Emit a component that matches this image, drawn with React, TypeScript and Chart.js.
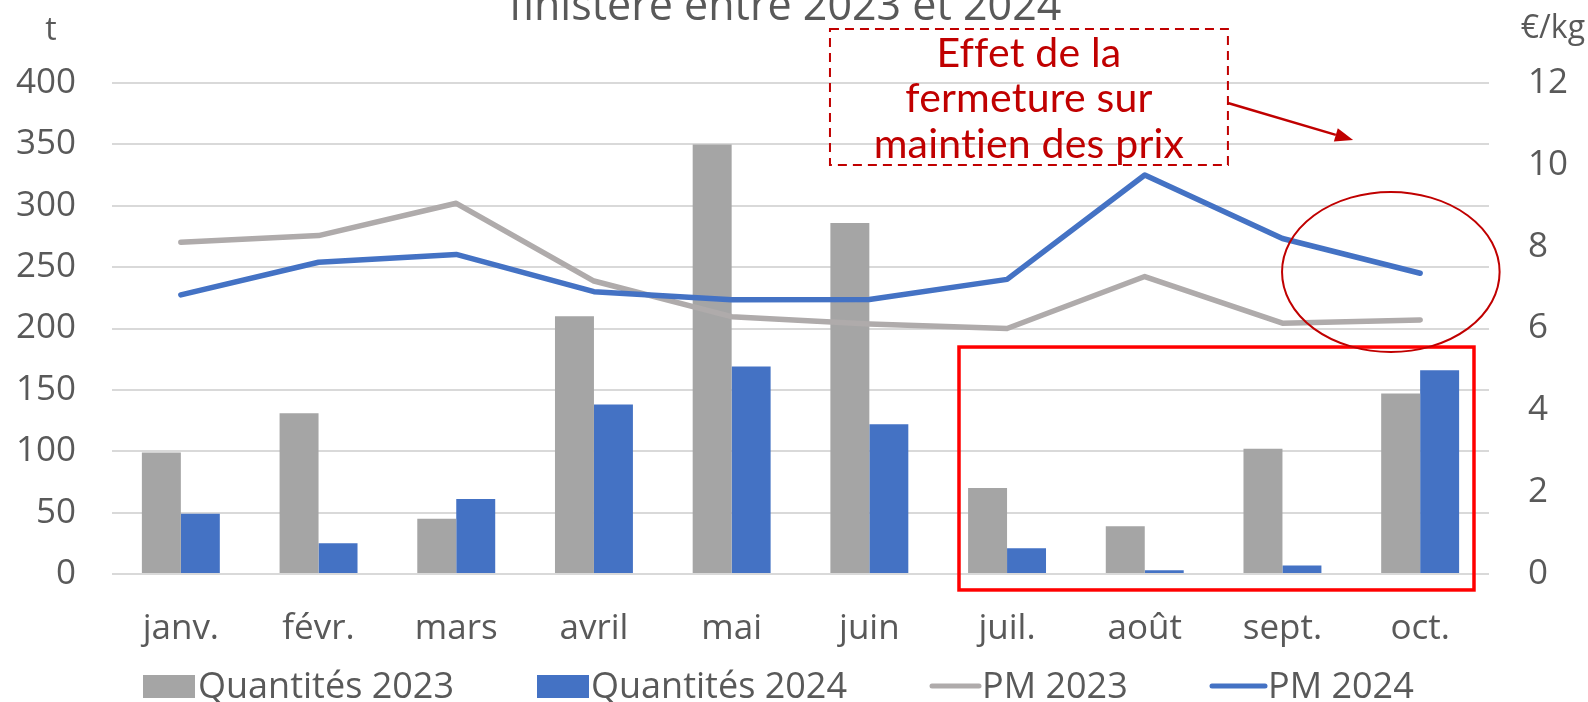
import React, { useEffect, useRef } from 'react';
import { Chart, registerables } from 'chart.js';

Chart.register(...registerables);

// ---- data ----
const categories = ['janv.', 'févr.', 'mars', 'avril', 'mai', 'juin', 'juil.', 'août', 'sept.', 'oct.'];
const quantites2023 = [99, 131, 45, 210, 350, 286, 70, 39, 102, 147];
const quantites2024 = [49, 25, 61, 138, 169, 122, 21, 3, 7, 166];
const prixMoyen2023 = [8.11, 8.27, 9.06, 7.16, 6.29, 6.11, 6.0, 7.27, 6.13, 6.21];
const prixMoyen2024 = [6.82, 7.62, 7.81, 6.9, 6.7, 6.71, 7.2, 9.75, 8.2, 7.35];
const seriesLabels = ['Quantités 2023', 'Quantités 2024', 'PM 2023', 'PM 2024'];
const leftAxisRange = [0, 400, 50];
const rightAxisRange = [0, 12, 2];
const leftAxisTitle = 't';
const rightAxisTitle = '€/kg';
const titleText = 'finistère entre 2023 et 2024';
const annotationLines = ['Effet de la', 'fermeture sur', 'maintien des prix'];

const FONT = "'Open Sans', sans-serif";
const TEXT = '#595959';
const GRAY_BAR = '#A5A5A5';
const BLUE = '#4472C4';
const GRAY_LINE = '#AFABAB';
const DARK_RED = '#C00000';

export default function App() {
  const ref = useRef<HTMLCanvasElement>(null);

  useEffect(() => {
    const canvas = ref.current!;

    const overlay = {
      id: 'overlay',
      afterDraw(chart: any) {
        const ctx = chart.ctx as CanvasRenderingContext2D;
        const xs = chart.scales.x;
        const yl = chart.scales.y;
        const yr = chart.scales.y1;
        const cx = (v: number) => xs.getPixelForValue(v);
        const cw = xs.getPixelForValue(1) - xs.getPixelForValue(0);
        ctx.save();

        // title (partially cut at top)
        ctx.fillStyle = TEXT;
        ctx.font = `43px ${FONT}`;
        ctx.textAlign = 'center';
        ctx.textBaseline = 'alphabetic';
        ctx.fillText(titleText, 785, 20);

        // axis titles
        ctx.font = `32px ${FONT}`;
        ctx.textAlign = 'center';
        ctx.fillText(leftAxisTitle, 51, 40);
        ctx.textAlign = 'right';
        ctx.fillText(rightAxisTitle, 1585, 38);

        // legend
        ctx.font = `36px ${FONT}`;
        ctx.textAlign = 'left';
        const legendY = 698;
        ctx.fillStyle = GRAY_BAR;
        ctx.fillRect(143, 675, 52, 23);
        ctx.fillStyle = TEXT;
        ctx.fillText(seriesLabels[0], 198, legendY);
        ctx.fillStyle = BLUE;
        ctx.fillRect(537, 675, 52, 23);
        ctx.fillStyle = TEXT;
        ctx.fillText(seriesLabels[1], 591, legendY);
        ctx.lineCap = 'round';
        ctx.lineWidth = 5;
        ctx.strokeStyle = GRAY_LINE;
        ctx.beginPath();
        ctx.moveTo(932, 686);
        ctx.lineTo(979, 686);
        ctx.stroke();
        ctx.fillStyle = TEXT;
        ctx.fillText(seriesLabels[2], 982, legendY);
        ctx.strokeStyle = BLUE;
        ctx.beginPath();
        ctx.moveTo(1212, 686);
        ctx.lineTo(1265, 686);
        ctx.stroke();
        ctx.fillText(seriesLabels[3], 1268, legendY);

        // red rectangle around juil.-oct.
        ctx.lineCap = 'butt';
        ctx.strokeStyle = '#FF0000';
        ctx.lineWidth = 3.5;
        const rx0 = cx(5.651), rx1 = cx(9.391);
        const ry0 = yl.getPixelForValue(184.9), ry1 = yl.getPixelForValue(-13);
        ctx.strokeRect(rx0, ry0, rx1 - rx0, ry1 - ry0);

        // ellipse around end of price lines
        ctx.strokeStyle = DARK_RED;
        ctx.lineWidth = 2;
        const ecx = cx(8.787);
        const ecy = yr.getPixelForValue(7.38);
        const erx = 0.79 * cw;
        const ery = Math.abs(yr.getPixelForValue(0) - yr.getPixelForValue(1.955));
        ctx.beginPath();
        ctx.ellipse(ecx, ecy, erx, ery, 0, 0, Math.PI * 2);
        ctx.stroke();

        // dashed annotation box
        const bx0 = cx(4.714), bx1 = cx(7.604);
        const by0 = yl.getPixelForValue(444), by1 = yl.getPixelForValue(333.2);
        ctx.setLineDash([9, 6]);
        ctx.lineWidth = 2;
        ctx.strokeRect(bx0, by0, bx1 - bx0, by1 - by0);
        ctx.setLineDash([]);
        ctx.fillStyle = DARK_RED;
        ctx.font = `41px Lato, ${FONT}`;
        try {
          (ctx as any).letterSpacing = '0.2px';
        } catch (e) {}
        ctx.textAlign = 'center';
        const bcx = (bx0 + bx1) / 2;
        annotationLines.forEach((t, i) => {
          ctx.fillText(t, bcx, by0 + 38 + i * 45.5);
        });
        try {
          (ctx as any).letterSpacing = '0px';
        } catch (e) {}

        // arrow
        const ax0 = cx(7.604), ay0 = yl.getPixelForValue(383.7);
        const ax1 = cx(8.513), ay1 = yl.getPixelForValue(353.6);
        const ang = Math.atan2(ay1 - ay0, ax1 - ax0);
        const headLen = 18, headW = 7;
        ctx.strokeStyle = DARK_RED;
        ctx.lineWidth = 2.5;
        ctx.beginPath();
        ctx.moveTo(ax0, ay0);
        ctx.lineTo(ax1 - headLen * Math.cos(ang), ay1 - headLen * Math.sin(ang));
        ctx.stroke();
        ctx.beginPath();
        ctx.moveTo(ax1, ay1);
        const bxh = ax1 - headLen * Math.cos(ang), byh = ay1 - headLen * Math.sin(ang);
        ctx.lineTo(bxh + headW * Math.sin(ang), byh - headW * Math.cos(ang));
        ctx.lineTo(bxh - headW * Math.sin(ang), byh + headW * Math.cos(ang));
        ctx.closePath();
        ctx.fill();

        ctx.restore();
      },
    };

    const chart = new Chart(canvas, {
      type: 'bar',
      data: {
        labels: categories,
        datasets: [
          {
            type: 'bar',
            label: seriesLabels[0],
            data: quantites2023,
            backgroundColor: GRAY_BAR,
            yAxisID: 'y',
            order: 2,
            categoryPercentage: 0.566,
            barPercentage: 1.0,
          },
          {
            type: 'bar',
            label: seriesLabels[1],
            data: quantites2024,
            backgroundColor: BLUE,
            yAxisID: 'y',
            order: 2,
            categoryPercentage: 0.566,
            barPercentage: 1.0,
          },
          {
            type: 'line',
            label: seriesLabels[2],
            data: prixMoyen2023,
            borderColor: GRAY_LINE,
            backgroundColor: GRAY_LINE,
            borderWidth: 5.5,
            pointRadius: 0,
            borderCapStyle: 'round',
            borderJoinStyle: 'round',
            tension: 0,
            yAxisID: 'y1',
            order: 1,
          },
          {
            type: 'line',
            label: seriesLabels[3],
            data: prixMoyen2024,
            borderColor: BLUE,
            backgroundColor: BLUE,
            borderWidth: 5.5,
            pointRadius: 0,
            borderCapStyle: 'round',
            borderJoinStyle: 'round',
            tension: 0,
            yAxisID: 'y1',
            order: 0,
          },
        ] as any,
      },
      options: {
        responsive: false,
        devicePixelRatio: 1,
        animation: false,
        layout: { padding: { top: 83, left: 0, right: 0, bottom: 0 } },
        plugins: {
          legend: { display: false },
          tooltip: { enabled: false },
          title: { display: false },
        },
        scales: {
          x: {
            type: 'category',
            grid: { display: false, drawTicks: false },
            border: { display: false },
            ticks: {
              font: { family: FONT, size: 35 },
              color: TEXT,
              padding: 34,
              maxRotation: 0,
              autoSkip: false,
            },
            afterFit(s: any) {
              s.height = 128;
            },
          },
          y: {
            position: 'left',
            min: leftAxisRange[0],
            max: leftAxisRange[1],
            ticks: {
              stepSize: leftAxisRange[2],
              font: { family: FONT, size: 35 },
              color: TEXT,
              padding: 36,
            },
            grid: { color: '#D9D9D9', lineWidth: 2, drawTicks: false },
            border: { display: false },
            afterFit(s: any) {
              s.width = 112;
            },
          },
          y1: {
            position: 'right',
            min: rightAxisRange[0],
            max: rightAxisRange[1],
            ticks: {
              stepSize: rightAxisRange[2],
              font: { family: FONT, size: 35 },
              color: TEXT,
              padding: 39,
            },
            grid: { drawOnChartArea: false, drawTicks: false },
            border: { display: false },
            afterFit(s: any) {
              s.width = 99;
            },
          },
        },
      } as any,
      plugins: [overlay],
    });

    return () => chart.destroy();
  }, []);

  return (
    <div style={{ position: 'fixed', left: 0, top: 0, width: 1588, height: 702, background: '#fff' }}>
      <canvas ref={ref} width={1588} height={702} style={{ display: 'block', width: 1588, height: 702 }} />
    </div>
  );
}
